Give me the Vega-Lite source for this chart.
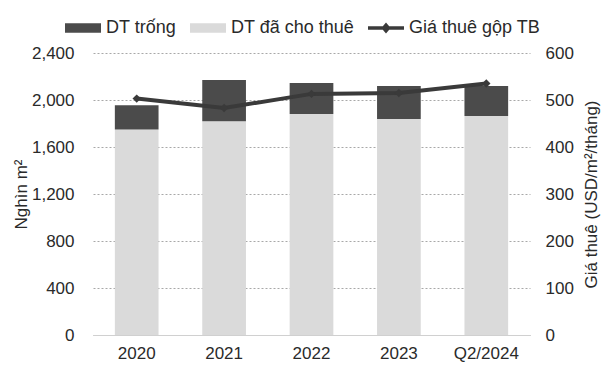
{
  "$schema": "https://vega.github.io/schema/vega-lite/v6.json",
  "width": 437,
  "height": 282,
  "autosize": {"type": "none"},
  "padding": {"left": 93, "top": 53, "right": 73, "bottom": 32},
  "background": "white",
  "config": {
    "font": "Liberation Sans",
    "view": {"stroke": null},
    "axis": {
      "labelFont": "Liberation Sans",
      "labelFontSize": 17,
      "labelColor": "#2a2a2a",
      "titleFont": "Liberation Sans",
      "titleFontSize": 17,
      "titleFontWeight": "normal",
      "titleColor": "#2a2a2a",
      "ticks": false,
      "domain": false,
      "gridColor": "#a8a8a8",
      "gridDash": [2, 2],
      "gridWidth": 1
    }
  },
  "datasets": {
    "area": [
      {"period": "2020", "series": "DT đã cho thuê", "value": 1750},
      {"period": "2020", "series": "DT trống", "value": 205},
      {"period": "2021", "series": "DT đã cho thuê", "value": 1820},
      {"period": "2021", "series": "DT trống", "value": 350},
      {"period": "2022", "series": "DT đã cho thuê", "value": 1880},
      {"period": "2022", "series": "DT trống", "value": 265},
      {"period": "2023", "series": "DT đã cho thuê", "value": 1838},
      {"period": "2023", "series": "DT trống", "value": 282},
      {"period": "Q2/2024", "series": "DT đã cho thuê", "value": 1863},
      {"period": "Q2/2024", "series": "DT trống", "value": 257}
    ],
    "price": [
      {"period": "2020", "series": "Giá thuê gộp TB", "price": 503},
      {"period": "2021", "series": "Giá thuê gộp TB", "price": 483},
      {"period": "2022", "series": "Giá thuê gộp TB", "price": 513},
      {"period": "2023", "series": "Giá thuê gộp TB", "price": 515},
      {"period": "Q2/2024", "series": "Giá thuê gộp TB", "price": 535}
    ]
  },
  "encoding": {
    "x": {
      "field": "period",
      "type": "nominal",
      "sort": null,
      "scale": {"paddingInner": 0.5, "paddingOuter": 0.25},
      "axis": {"title": null, "labelAngle": 0, "labelPadding": 10, "domain": true, "domainColor": "#d0d0d0", "domainWidth": 1}
    }
  },
  "layer": [
    {
      "data": {"name": "area"},
      "mark": {"type": "bar"},
      "encoding": {
        "y": {
          "field": "value",
          "type": "quantitative",
          "stack": "zero",
          "scale": {"domain": [0, 2400]},
          "axis": {"title": "Nghìn m²", "values": [0, 400, 800, 1200, 1600, 2000, 2400], "format": ",d", "labelPadding": 19, "titlePadding": 1}
        },
        "color": {
          "field": "series",
          "type": "nominal",
          "scale": {
            "domain": ["DT trống", "DT đã cho thuê", "Giá thuê gộp TB"],
            "range": ["#4b4b4b", "#dadada", "#3a3a3a"]
          },
          "legend": {
            "title": null,
            "orient": "none",
            "direction": "horizontal",
            "legendX": -28,
            "legendY": -43,
            "labelFont": "Liberation Sans",
            "labelFontSize": 18,
            "labelColor": "#2a2a2a",
            "symbolSize": 1296,
            "symbolStrokeWidth": 0,
            "labelOffset": 5,
            "columnPadding": 13,
            "encode": {
              "symbols": {
                "update": {
                  "shape": {"signal": "datum.value === 'Giá thuê gộp TB' ? 'M-1,-0.1H1V0.1H-1Z M0,-0.3L0.26,0L0,0.3L-0.26,0Z' : 'M-1,-0.27H1V0.27H-1Z'"},
                  "strokeWidth": {"value": 0}
                }
              }
            }
          }
        },
        "order": {"field": "series", "sort": "descending"}
      }
    },
    {
      "data": {"name": "price"},
      "mark": {"type": "line", "strokeWidth": 4, "point": {"shape": "diamond", "size": 70, "filled": true}},
      "encoding": {
        "y": {
          "field": "price",
          "type": "quantitative",
          "scale": {"domain": [0, 600]},
          "axis": {"orient": "right", "title": "Giá thuê (USD/m²/tháng)", "titleAngle": 270, "titleBaseline": "top", "grid": false, "values": [0, 100, 200, 300, 400, 500, 600], "labelPadding": 15, "titlePadding": 10}
        },
        "color": {"field": "series", "type": "nominal"}
      }
    }
  ],
  "resolve": {"scale": {"y": "independent"}}
}
